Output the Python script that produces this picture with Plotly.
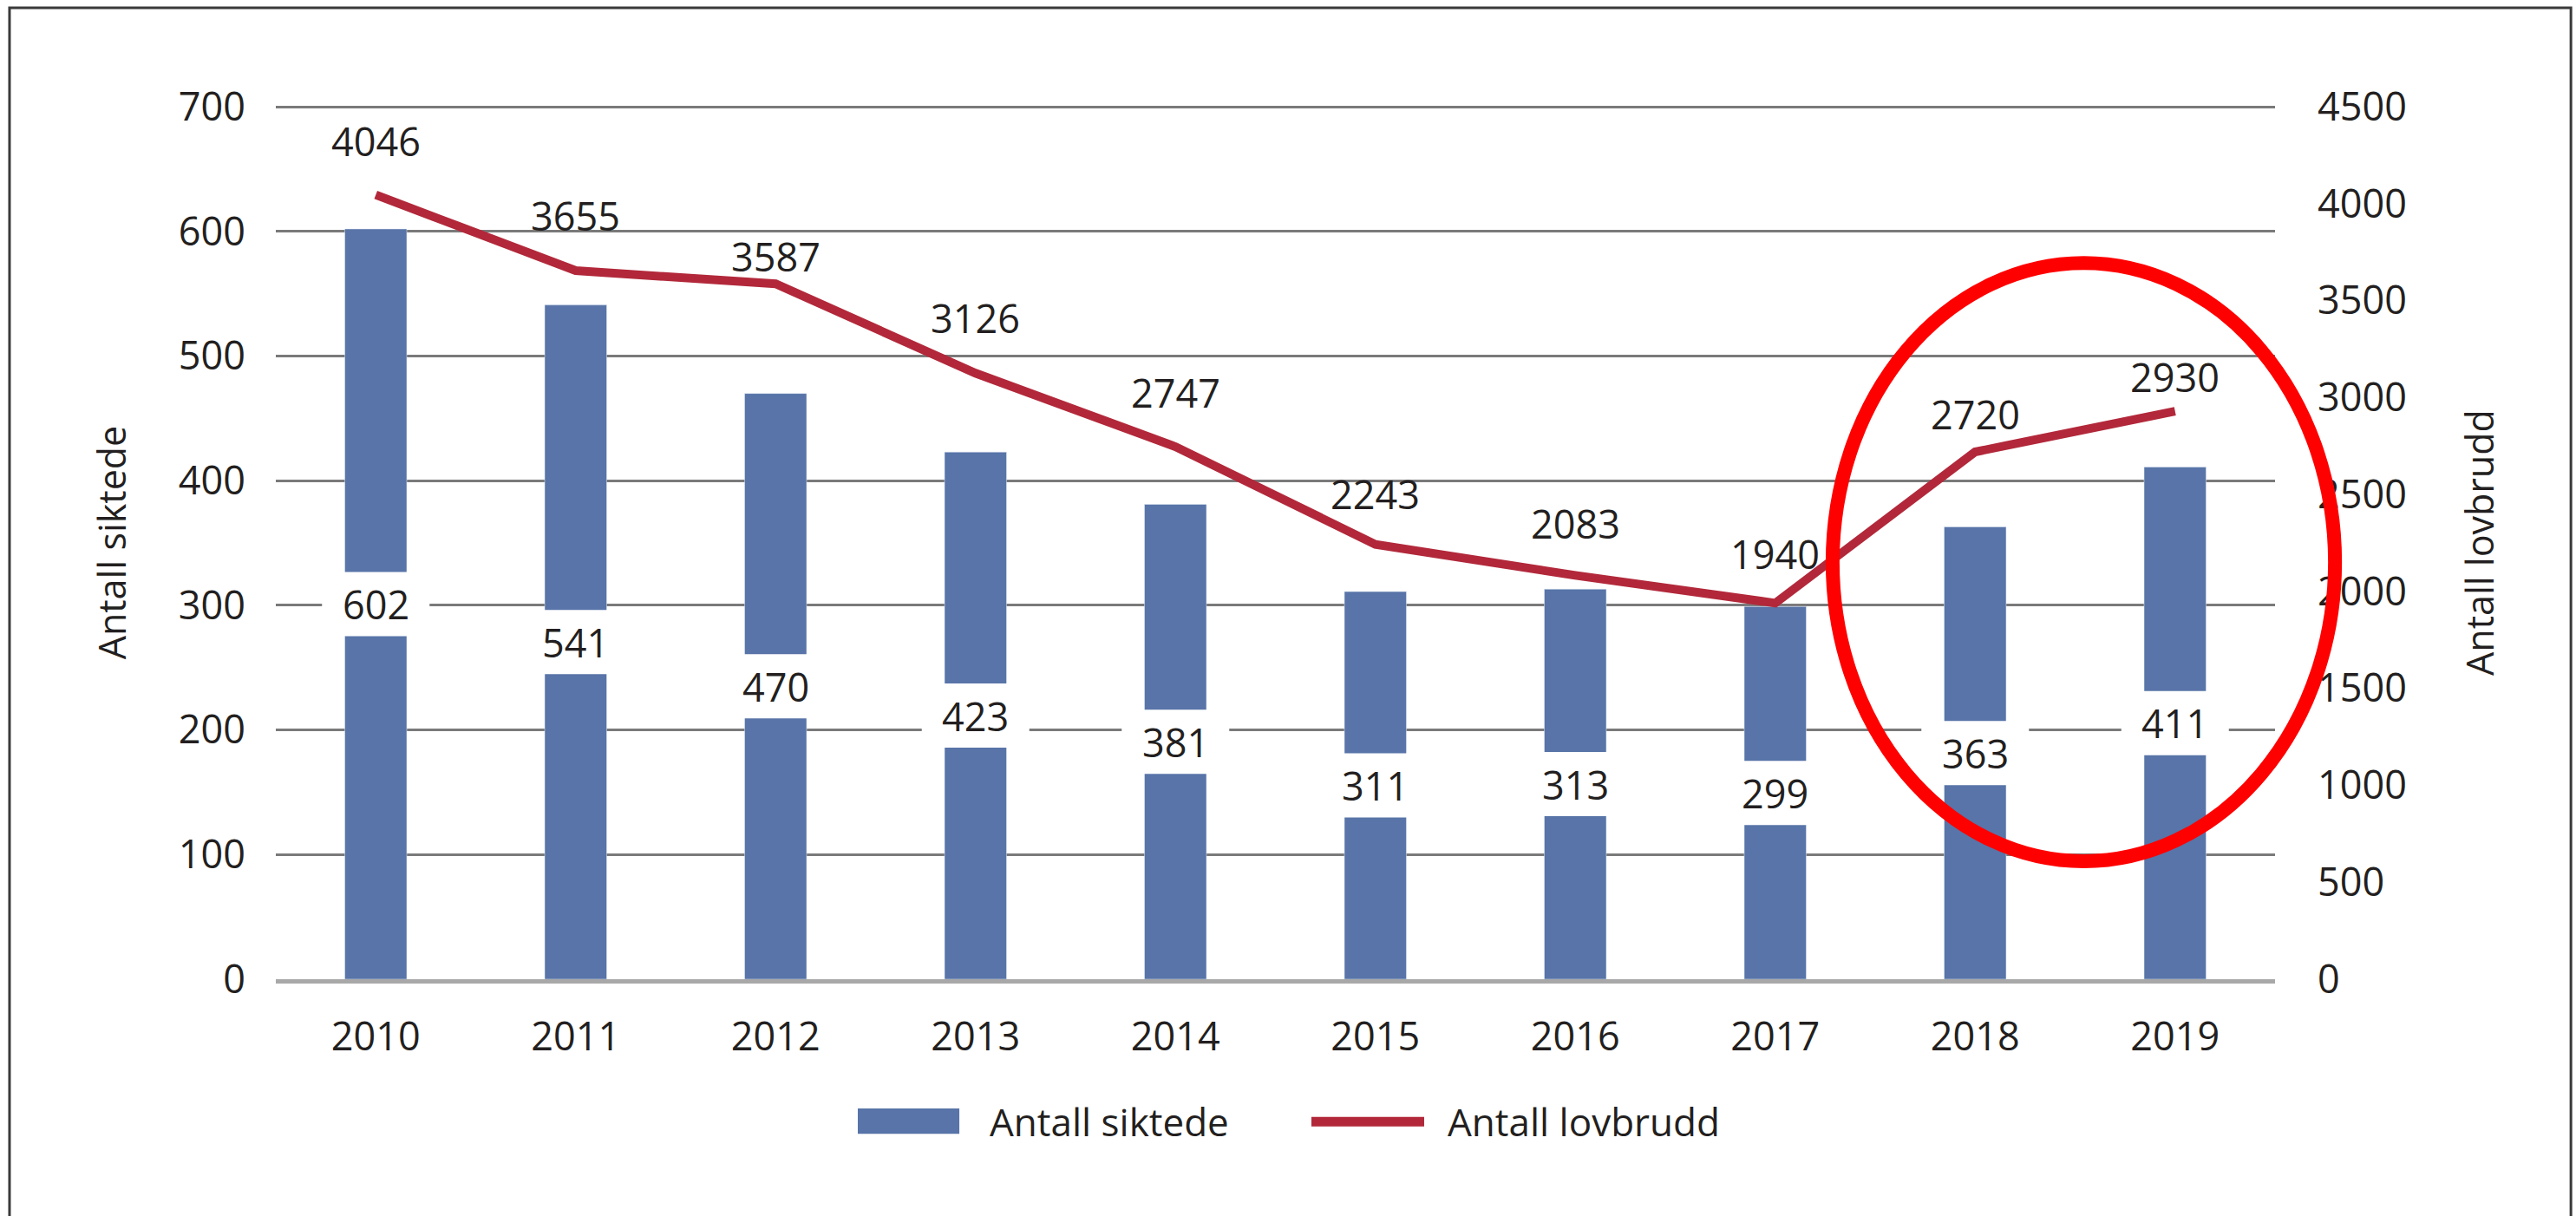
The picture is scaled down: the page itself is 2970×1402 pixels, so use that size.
import plotly.graph_objects as go

years = ["2010", "2011", "2012", "2013", "2014", "2015", "2016", "2017", "2018", "2019"]
siktede = [602, 541, 470, 423, 381, 311, 313, 299, 363, 411]
lovbrudd = [4046, 3655, 3587, 3126, 2747, 2243, 2083, 1940, 2720, 2930]

# vertical pixel offsets of the line labels above their points
lovbrudd_label_shift = [62, 64, 32, 64, 62, 58, 60, 57, 44, 40]

BAR = "#5874a8"
LINE = "#b2283a"
TEXT = "#231f20"
FONT = "Open Sans"

fig = go.Figure()
fig.add_trace(go.Bar(x=years, y=siktede, name="Antall siktede", marker_color=BAR,
                     width=0.31, showlegend=False, hoverinfo="x+y"))
fig.add_trace(go.Scatter(x=years, y=lovbrudd, name="Antall lovbrudd", yaxis="y2", mode="lines",
                         line=dict(color=LINE, width=10), showlegend=False))

annotations = []
shapes = [
    # outer frame
    dict(type="rect", xref="paper", yref="paper", x0=-0.1332, x1=1.1480, y0=-0.30, y1=1.1123,
         line=dict(color="#3a3a3a", width=3), layer="below"),
]

# bar labels: white box half way up each bar, value text on top (x as category index)
for i, v in enumerate(siktede):
    shapes.append(dict(type="rect", xref="x", yref="y", xsizemode="pixel", ysizemode="pixel",
                       xanchor=i, yanchor=v / 2, x0=-62, x1=62, y0=-37, y1=37,
                       fillcolor="white", line=dict(width=0), layer="above"))
    annotations.append(dict(x=i, y=v / 2, xref="x", yref="y", text=str(v), showarrow=False,
                            font=dict(size=45, color=TEXT)))
for i, (v, dy) in enumerate(zip(lovbrudd, lovbrudd_label_shift)):
    annotations.append(dict(x=i, y=v, xref="x", yref="y2", text=str(v), showarrow=False,
                            yshift=dy, font=dict(size=45, color=TEXT)))

# legend drawn by hand (wide swatches like the original)
annotations += [
    dict(x=0.3562, y=-0.163, xref="paper", yref="paper", text="Antall siktede", showarrow=False,
         xanchor="left", yanchor="middle", font=dict(size=44, color=TEXT)),
    dict(x=0.5852, y=-0.163, xref="paper", yref="paper", text="Antall lovbrudd", showarrow=False,
         xanchor="left", yanchor="middle", font=dict(size=44, color=TEXT)),
]

shapes += [
    dict(type="rect", xref="paper", yref="paper", x0=0.2911, x1=0.3419, y0=-0.177, y1=-0.148,
         fillcolor=BAR, line=dict(width=0)),
    dict(type="line", xref="paper", yref="paper", x0=0.518, x1=0.5744, y0=-0.163, y1=-0.163,
         line=dict(color=LINE, width=11)),
    # red highlight ellipse
    dict(type="circle", xref="paper", yref="paper", x0=0.7787, x1=1.0300, y0=0.135, y1=0.820,
         line=dict(color="#ff0000", width=16), layer="above"),
]

fig.update_layout(
    width=2970, height=1402,
    margin=dict(l=318, r=347, t=122, b=273),
    paper_bgcolor="white", plot_bgcolor="white",
    font=dict(family=FONT, size=45, color=TEXT),
    xaxis=dict(type="category", range=[-0.5, 9.5], showgrid=False, showline=True,
               linecolor="#a8a8a8", linewidth=5, ticks="", ticklabelstandoff=23,
               tickfont=dict(size=45)),
    yaxis=dict(range=[0, 700.8], dtick=100, showgrid=True, gridcolor="#7a7a7a", gridwidth=2.5,
               zeroline=False, ticks="", ticklabelstandoff=34, tickfont=dict(size=45),
               title=dict(text="Antall siktede", font=dict(size=43), standoff=46)),
    yaxis2=dict(range=[0, 4500 * 700.8 / 700], dtick=500, overlaying="y", side="right",
                showgrid=False, zeroline=False, ticks="", ticklabelstandoff=48,
                tickfont=dict(size=45),
                title=dict(text="Antall lovbrudd", font=dict(size=43), standoff=70)),
    annotations=annotations,
    shapes=shapes,
)

fig.write_html("out.html", config={"displayModeBar": False},
               post_script="document.body.style.margin = '0';")
